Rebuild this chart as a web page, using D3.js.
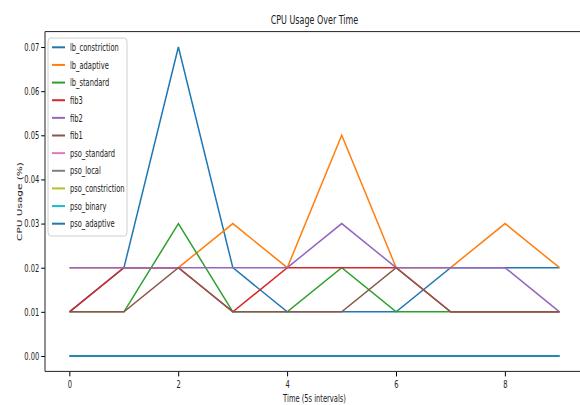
<!DOCTYPE html>
<html lang='en'>

<head>
    <meta charset='UTF-8'>
    <title>CPU Usage Over Time</title>
    <script src='https://d3js.org/d3.v7.min.js' charset='utf-8'></script>
    <style>
        body {
            margin: 0px;
            overflow: hidden;
            background: white;
        }

        svg text {
            font-family: 'DejaVu Sans', sans-serif;
            fill: #222;
        }

        svg line, svg path, svg rect {
            vector-effect: non-scaling-stroke;
        }
    </style>
</head>

<body>
    <div id='chart'></div>
    <script>
        'use strict';

        // time steps (5s intervals)
        const timeSteps = [0, 1, 2, 3, 4, 5, 6, 7, 8, 9];

        const seriesNames = ['lb_constriction', 'lb_adaptive', 'lb_standard', 'fib3', 'fib2', 'fib1',
            'pso_standard', 'pso_local', 'pso_constriction', 'pso_binary', 'pso_adaptive'];

        const lbConstriction = [0.01, 0.02, 0.07, 0.02, 0.01, 0.01, 0.01, 0.02, 0.02, 0.02];
        const lbAdaptive = [0.02, 0.02, 0.02, 0.03, 0.02, 0.05, 0.02, 0.02, 0.03, 0.02];
        const lbStandard = [0.01, 0.01, 0.03, 0.01, 0.01, 0.02, 0.01, 0.01, 0.01, 0.01];
        const fib3 = [0.01, 0.02, 0.02, 0.01, 0.02, 0.02, 0.02, 0.01, 0.01, 0.01];
        const fib2 = [0.02, 0.02, 0.02, 0.02, 0.02, 0.03, 0.02, 0.02, 0.02, 0.01];
        const fib1 = [0.01, 0.01, 0.02, 0.01, 0.01, 0.01, 0.02, 0.01, 0.01, 0.01];
        const psoStandard = [0, 0, 0, 0, 0, 0, 0, 0, 0, 0];
        const psoLocal = [0, 0, 0, 0, 0, 0, 0, 0, 0, 0];
        const psoConstriction = [0, 0, 0, 0, 0, 0, 0, 0, 0, 0];
        const psoBinary = [0, 0, 0, 0, 0, 0, 0, 0, 0, 0];
        const psoAdaptive = [0, 0, 0, 0, 0, 0, 0, 0, 0, 0];

        const seriesValues = [lbConstriction, lbAdaptive, lbStandard, fib3, fib2, fib1,
            psoStandard, psoLocal, psoConstriction, psoBinary, psoAdaptive];

        const xTicks = [0, 2, 4, 6, 8];
        const yTicks = [0, 0.01, 0.02, 0.03, 0.04, 0.05, 0.06, 0.07];

        const colors = ['#1f77b4', '#ff7f0e', '#2ca02c', '#d62728', '#9467bd', '#8c564b',
            '#e377c2', '#7f7f7f', '#bcbd22', '#17becf', '#1f77b4'];

        // the picture is squeezed sideways, so draw in a wider space and squash it
        const squash = 0.64;
        const outW = 580, outH = 405;
        const W = outW / squash, H = outH;

        const plot = { left: 45 / squash, right: 584 / squash, top: 31.6, bottom: 371.4 };

        const svg = d3.select('#chart')
            .append('svg')
            .attr('width', outW)
            .attr('height', outH)
            .attr('viewBox', `0 0 ${W} ${H}`)
            .attr('preserveAspectRatio', 'none');

        const x = d3.scaleLinear()
            .domain([-0.45, 9.45])
            .range([plot.left, plot.right]);

        const y = d3.scaleLinear()
            .domain([-0.0035, 0.0735])
            .range([plot.bottom, plot.top]);

        // axes
        const xAxis = svg.append('g')
            .attr('transform', `translate(0, ${plot.bottom})`)
            .call(d3.axisBottom(x).tickValues(xTicks).tickFormat(d3.format('d')).tickSize(5).tickPadding(4));
        xAxis.select('.domain').remove();
        xAxis.selectAll('text').attr('font-size', 10.5).attr('fill', '#222');

        const yAxis = svg.append('g')
            .attr('transform', `translate(${plot.left}, 0)`)
            .call(d3.axisLeft(y).tickValues(yTicks).tickFormat(d3.format('.2f')).tickSize(6).tickPadding(3));
        yAxis.select('.domain').remove();
        yAxis.selectAll('text').attr('font-size', 10.5).attr('fill', '#222');

        // lines
        const line = d3.line()
            .x((d, i) => x(timeSteps[i]))
            .y(d => y(d));

        svg.append('g')
            .selectAll('path')
            .data(seriesValues)
            .enter()
            .append('path')
            .attr('d', d => line(d))
            .attr('fill', 'none')
            .attr('stroke', (d, i) => colors[i])
            .attr('stroke-width', 1.5);

        // frame
        svg.append('rect')
            .attr('x', plot.left)
            .attr('y', plot.top)
            .attr('width', plot.right - plot.left)
            .attr('height', plot.bottom - plot.top)
            .attr('fill', 'none')
            .attr('stroke', '#222')
            .attr('stroke-width', 1);

        // titles
        svg.append('text')
            .attr('x', (plot.left + plot.right) / 2)
            .attr('y', 24.5)
            .attr('text-anchor', 'middle')
            .attr('font-size', 12.5)
            .text('CPU Usage Over Time');

        svg.append('text')
            .attr('x', (plot.left + plot.right) / 2)
            .attr('y', 402)
            .attr('text-anchor', 'middle')
            .attr('font-size', 10.5)
            .text('Time (5s intervals)');

        svg.append('text')
            .attr('transform', `translate(${22 / squash}, ${(plot.top + plot.bottom) / 2}) rotate(-90)`)
            .attr('text-anchor', 'middle')
            .attr('font-size', 10.5)
            .text('CPU Usage (%)');

        // legend
        const legend = svg.append('g');
        legend.append('rect')
            .attr('x', 48 / squash)
            .attr('y', 38)
            .attr('width', (127 - 48) / squash)
            .attr('height', 198)
            .attr('rx', 4)
            .attr('fill', 'white')
            .attr('fill-opacity', 0.85)
            .attr('stroke', '#d0d0d0')
            .attr('stroke-width', 1);

        const rowY = d3.scaleLinear().domain([0, 10]).range([47.3, 223.7]);

        const rows = legend.selectAll('g.row')
            .data(seriesNames)
            .enter()
            .append('g')
            .attr('class', 'row')
            .attr('transform', (d, i) => `translate(0, ${rowY(i)})`);

        rows.append('line')
            .attr('x1', 52 / squash)
            .attr('x2', 65 / squash)
            .attr('stroke', (d, i) => colors[i])
            .attr('stroke-width', 2);

        rows.append('text')
            .attr('x', 70 / squash)
            .attr('dy', '0.35em')
            .attr('font-size', 10.5)
            .text(d => d);
    </script>
</body>

</html>
